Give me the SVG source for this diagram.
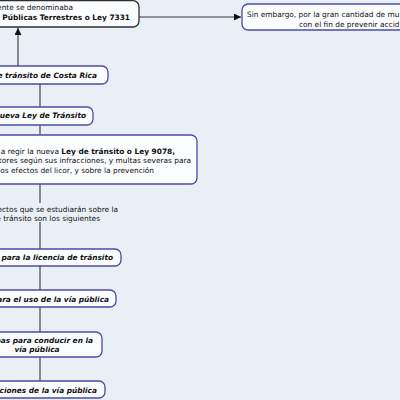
<svg xmlns="http://www.w3.org/2000/svg" width="400" height="400" viewBox="0 0 400 400">
<defs>
<style>
.bg{fill:#e9f0f5}
.box{fill:#fbfcfe;stroke:#4b4ba8;stroke-width:1.3}
.box0{fill:#fbfcfe;stroke:#2e2e2e;stroke-width:1.3}
.ln{stroke:#333;stroke-width:1.1;fill:none}
text{font-family:"DejaVu Sans",Verdana,sans-serif;font-size:7.4px;fill:#111}
.b{font-weight:bold}
.bi{font-weight:bold;font-style:italic}
</style>
<marker id="ah" viewBox="0 0 10 10" refX="10" refY="5" markerWidth="7" markerHeight="7" markerUnits="userSpaceOnUse" orient="auto"><path d="M0,0L10,5L0,10z" fill="#111"/></marker>
</defs>
<rect class="bg" x="0" y="0" width="400" height="400"/>
<g id="connectors">
<path class="ln" d="M139,17H241" marker-end="url(#ah)"/>
<path class="ln" d="M18,66V28" marker-end="url(#ah)"/>
<path class="ln" d="M40,84V107"/>
<path class="ln" d="M40,125V135"/>
<path class="ln" d="M40,184V203"/>
<path class="ln" d="M40,222V249"/>
<path class="ln" d="M40,266V290"/>
<path class="ln" d="M40,307V332"/>
<path class="ln" d="M40,357V381"/>
</g>
<g id="n-denominaba">
<rect class="box0" x="-30" y="0.7" width="169" height="26.3" rx="6"/>
<text x="73" y="10" text-anchor="end">ente se denominaba</text>
<text class="b" x="130" y="20" text-anchor="end">s Públicas Terrestres o Ley 7331</text>
</g>
<g id="n-sinembargo">
<rect class="box" x="242" y="4" width="180" height="26" rx="6"/>
<text x="247" y="16.5">Sin embargo, por la gran cantidad de mu</text>
<text x="299" y="27">con el fin de prevenir accid</text>
</g>
<g id="n-costarica">
<rect class="box" x="-30" y="66" width="138" height="18" rx="6"/>
<text class="bi" x="97" y="78" text-anchor="end">de tránsito de Costa Rica</text>
</g>
<g id="n-nueva">
<rect class="box" x="-30" y="107" width="123" height="18" rx="6"/>
<text class="bi" x="86" y="117.5" text-anchor="end">ueva Ley de Tránsito</text>
</g>
<g id="n-regir">
<rect class="box" x="-30" y="135" width="227" height="49" rx="6"/>
<text x="175" y="153.5" text-anchor="end">a regir la nueva <tspan class="b">Ley de tránsito o Ley 9078,</tspan></text>
<text x="191" y="163" text-anchor="end">tores según sus infracciones, y multas severas para</text>
<text x="154" y="172.5" text-anchor="end">los efectos del licor, y sobre la prevención</text>
</g>
<g id="n-aspectos">
<text x="118" y="212" text-anchor="end">ectos que se estudiarán sobre la</text>
<text x="100" y="221" text-anchor="end">e tránsito son los siguientes</text>
</g>
<g id="n-licencia">
<rect class="box" x="-30" y="249" width="151" height="17" rx="6"/>
<text class="bi" x="113" y="260" text-anchor="end">s para la licencia de tránsito</text>
</g>
<g id="n-uso">
<rect class="box" x="-30" y="290" width="146" height="17" rx="6"/>
<text class="bi" x="109" y="302" text-anchor="end">ara el uso de la vía pública</text>
</g>
<g id="n-conducir">
<rect class="box" x="-28" y="332" width="130" height="25" rx="6"/>
<text class="bi" x="93" y="343" text-anchor="end">bas para conducir en la</text>
<text class="bi" x="37" y="351.5" text-anchor="middle">vía pública</text>
</g>
<g id="n-aciones">
<rect class="box" x="-30" y="381" width="135" height="17" rx="6"/>
<text class="bi" x="97" y="392.5" text-anchor="end">aciones de la vía pública</text>
</g>
</svg>
